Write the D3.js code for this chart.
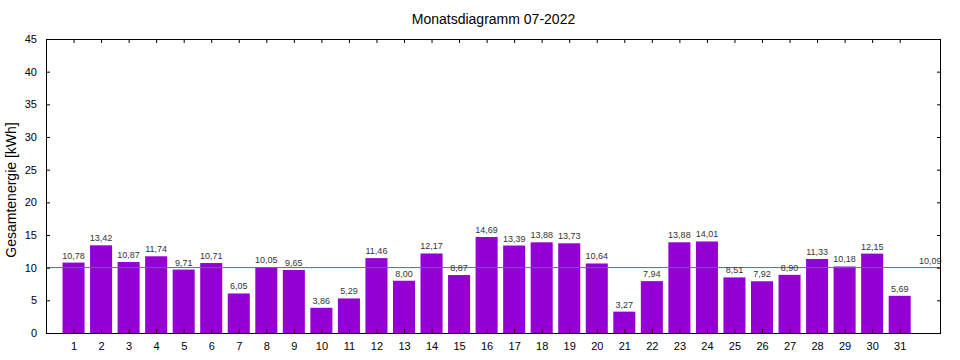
<!DOCTYPE html>
<html><head><meta charset="utf-8">
<script src="https://cdn.jsdelivr.net/npm/d3@7"></script>
<style>body{margin:0;background:#fff}svg{display:block}text{font-family:"Liberation Sans",Arial,sans-serif}</style>
</head><body><svg id="c" width="960" height="360"></svg>
<script>
const title = "Monatsdiagramm 07-2022";
const yLabel = "Gesamtenergie [kWh]";
const days = d3.range(1, 32);
const values = [10.78,13.42,10.87,11.74,9.71,10.71,6.05,10.05,9.65,3.86,5.29,11.46,8.00,12.17,8.87,14.69,13.39,13.88,13.73,10.64,3.27,7.94,13.88,14.01,8.51,7.92,8.90,11.33,10.18,12.15,5.69];
const meanValue = 10.09;
const yTicks = [0,5,10,15,20,25,30,35,40,45];

const svg = d3.select("#c");
const L=46, R=941, T=39, B=333;
const x = d3.scaleLinear().domain([0,32.5]).range([L,R]);
const y = d3.scaleLinear().domain([0,45]).range([B,T]);
const fmt = v => v.toFixed(2).replace(".", ",");

// bars
svg.append("g").selectAll("rect").data(days).join("rect")
  .attr("x", d => x(d-0.4)).attr("width", x(0.8)-x(0))
  .attr("y", (d,i) => y(values[i])).attr("height", (d,i) => y(0)-y(values[i]))
  .attr("fill", "#9400d3");

// mean line
svg.append("line").attr("x1", L).attr("x2", R).attr("y1", y(meanValue)+0.5).attr("y2", y(meanValue)+0.5)
  .attr("stroke", "#009e73").attr("stroke-width", 1);

// value labels
svg.append("g").selectAll("text").data(days).join("text")
  .attr("x", d => x(d)).attr("y", (d,i) => y(values[i]) - 4)
  .attr("text-anchor", "middle").attr("font-size", 9).attr("fill", "#333")
  .text((d,i) => fmt(values[i]));
svg.append("text").attr("x", x(32)+3).attr("y", y(meanValue)-3)
  .attr("text-anchor", "middle").attr("font-size", 9).attr("fill", "#333").text(fmt(meanValue));

// axes
const tk = 4;
svg.append("g").attr("transform", `translate(0,${B})`)
  .call(d3.axisBottom(x).tickValues(days).tickSize(-tk).tickPadding(9).tickFormat(d3.format("d")))
  .call(g => g.select(".domain").remove());
svg.append("g").attr("transform", `translate(0,${T})`)
  .call(d3.axisTop(x).tickValues(days).tickSize(-tk).tickFormat(""))
  .call(g => g.select(".domain").remove());
svg.append("g").attr("transform", `translate(${L},0)`)
  .call(d3.axisLeft(y).tickValues(yTicks).tickSize(-tk).tickPadding(9).tickFormat(d3.format("d")))
  .call(g => g.select(".domain").remove());
svg.append("g").attr("transform", `translate(${R},0)`)
  .call(d3.axisRight(y).tickValues(yTicks).tickSize(-tk).tickFormat(""))
  .call(g => g.select(".domain").remove());
svg.selectAll(".tick text").attr("font-size", 11).attr("fill", "#000").attr("font-family", '"Liberation Sans",Arial,sans-serif');
svg.selectAll(".tick line").attr("stroke", "#000");

svg.append("rect").attr("x", L+0.5).attr("y", T+0.5).attr("width", R-L-1).attr("height", B-T)
  .attr("fill", "none").attr("stroke", "#000").attr("stroke-width", 1);

svg.append("text").attr("x", (L+R)/2).attr("y", 24).attr("text-anchor", "middle")
  .attr("font-size", 14).attr("fill", "#000").text(title);
svg.append("text").attr("transform", `translate(16,${(T+B)/2+4}) rotate(-90)`).attr("text-anchor", "middle")
  .attr("font-size", 14).attr("fill", "#000").text(yLabel);
</script></body></html>
